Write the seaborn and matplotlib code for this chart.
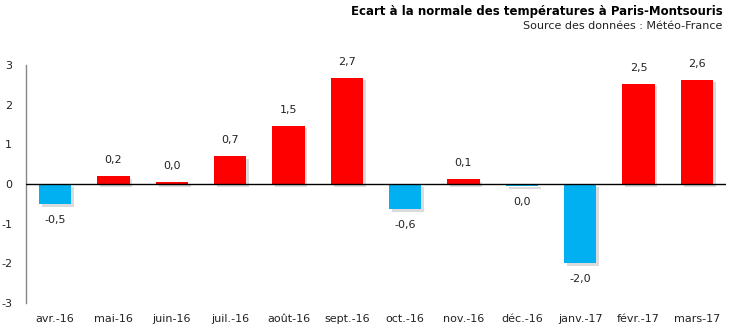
import matplotlib
matplotlib.use("Agg")
import matplotlib.pyplot as plt
import matplotlib.patheffects as pe
import seaborn as sns
import pandas as pd

months = ["avr.-16", "mai-16", "juin-16", "juil.-16", "août-16", "sept.-16",
          "oct.-16", "nov.-16", "déc.-16", "janv.-17", "févr.-17", "mars-17"]
values = [-0.5, 0.2, 0.05, 0.7, 1.47, 2.68, -0.64, 0.13, -0.06, -2.0, 2.53, 2.63]
labels = ["-0,5", "0,2", "0,0", "0,7", "1,5", "2,7", "-0,6", "0,1", "0,0", "-2,0", "2,5", "2,6"]

sns.set_theme(style="white")
plt.rcParams['font.family'] = ['DejaVu Sans']

df = pd.DataFrame({"mois": months, "ecart": values,
                   "signe": ["pos" if v >= 0 else "neg" for v in values]})

fig = plt.figure(figsize=(7.3, 3.26), dpi=100)
ax = fig.add_axes([26/730, 23/326, 700/730, 238/326])
sns.barplot(data=df, x="mois", y="ecart", hue="signe",
            palette={"pos": "#FF0000", "neg": "#00B0F0"},
            dodge=False, width=0.55, saturation=1, legend=False, ax=ax)

for p in ax.patches:
    p.set_edgecolor("none")
    p.set_path_effects([pe.SimplePatchShadow(offset=(2, -2), shadow_rgbFace="#999999", alpha=0.35),
                        pe.Normal()])

ax.set_ylim(-3, 3)
ax.set_xlim(-0.5, len(months) - 0.5)
ax.set_yticks([-3, -2, -1, 0, 1, 2, 3])
ax.set_yticklabels(["-3", "-2", "-1", "0", "1", "2", "3"])
ax.tick_params(axis="both", length=0, labelsize=8, colors="#222222")
ax.tick_params(axis="y", pad=10)
ax.tick_params(axis="x", pad=8)
ax.set_xlabel("")
ax.set_ylabel("")
for s in ["top", "right", "bottom"]:
    ax.spines[s].set_visible(False)
ax.spines["left"].set_color("#888888")
ax.spines["left"].set_linewidth(1)
ax.axhline(0, color="black", linewidth=1, zorder=5)

for i, (v, t) in enumerate(zip(values, labels)):
    if v >= 0:
        ax.annotate(t, (i, v), xytext=(0, 8), textcoords="offset points",
                    ha="center", va="bottom", fontsize=8, color="#222222")
    else:
        ax.annotate(t, (i, v), xytext=(0, -8), textcoords="offset points",
                    ha="center", va="top", fontsize=8, color="#222222")

fig.text(0.99, 0.985, "Ecart à la normale des températures à Paris-Montsouris",
         ha="right", va="top", fontsize=8.5, fontweight="bold", color="black")
fig.text(0.99, 0.935, "Source des données : Météo-France",
         ha="right", va="top", fontsize=8, color="#222222")

fig.savefig("out.png", dpi=100)
